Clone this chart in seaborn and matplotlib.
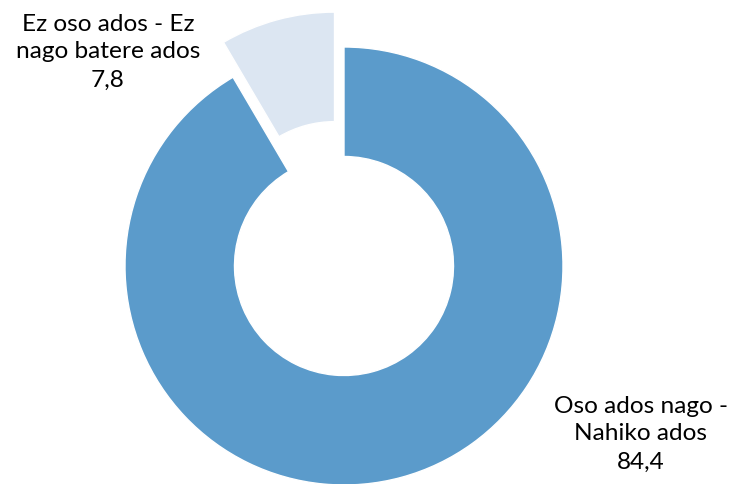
import seaborn as sns
import matplotlib.pyplot as plt

# Donut chart data
labels = ["Oso ados nago -\nNahiko ados", "Ez oso ados - Ez\nnago batere ados"]
values = [84.4, 7.8]
colors = ["#5B9BCB", "#DCE6F2"]
explode = [0, 0.165]

sns.set_theme(style="white")
plt.rcParams['font.family'] = ['Lato', 'DejaVu Sans']

fig = plt.figure(figsize=(7.29, 4.84), dpi=100)
ax = fig.add_axes([0, 0, 1, 1])

# pixel layout: centre (344, 266), outer radius 219 px
R = 219.0
cx, cy = 344.0, 266.0

ax.pie(values, colors=colors, explode=explode, startangle=90, counterclock=False,
       radius=1.0, wedgeprops=dict(width=0.5, edgecolor="white", linewidth=1))
ax.set_xlim(-cx / R, (729 - cx) / R)
ax.set_ylim(-(484 - cy) / R, cy / R)
ax.set_aspect("auto")
ax.axis("off")


def px(x, y):
    return (x - cx) / R, (cy - y) / R


fmt = lambda v: f"{v:.1f}".replace(".", ",")
ax.text(*px(641, 434), f"{labels[0]}\n{fmt(values[0])}", ha="center", va="center",
        fontsize=17.6, linespacing=1.41, color="black")
ax.text(*px(108, 52), f"{labels[1]}\n{fmt(values[1])}", ha="center", va="center",
        fontsize=17.6, linespacing=1.41, color="black")

fig.savefig("out.png", dpi=100)
